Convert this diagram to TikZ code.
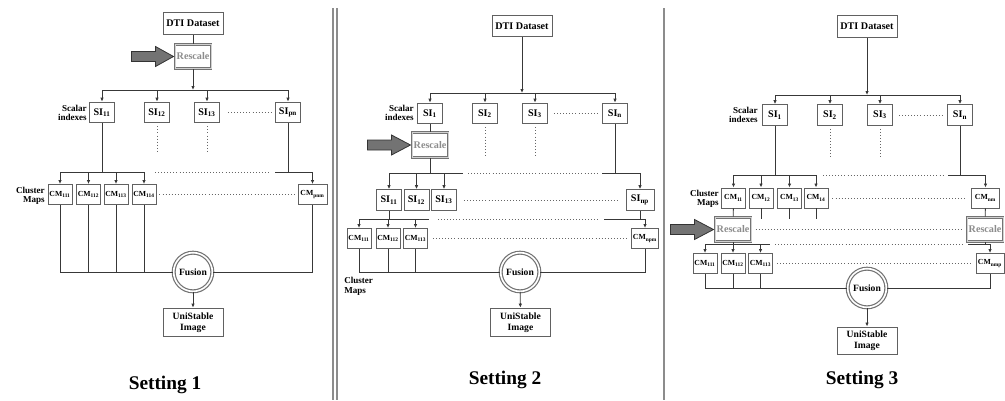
\documentclass[tikz,border=0pt]{standalone}
\usepackage{fontspec}
\setmainfont{Liberation Serif}
\usetikzlibrary{calc,arrows.meta}
\tikzset{
  ln/.style={draw=black!78, line width=0.65pt},
  arr/.style={ln, -{Latex[length=3pt,width=2.6pt]}},
  dots/.style={draw=black!60, line width=0.6pt, dash pattern=on 0.6pt off 1.7pt},
  box/.style={draw=black!62, line width=0.7pt, fill=white, inner sep=0pt, align=center,
    font=\bfseries\fontsize{7.6}{8.5}\selectfont},
  dtibox/.style={box, minimum width=45pt, minimum height=16pt},
  sibox/.style={box, minimum width=18.75pt, minimum height=15.5pt},
  cmbox/.style={box, font=\bfseries\fontsize{5.8}{6}\selectfont, minimum width=18pt, minimum height=15pt},
  rsbox/.style={draw=black!55, double=black!18, double distance=0.7pt, line width=0.75pt, fill=white,
    inner sep=0pt, minimum width=27pt, minimum height=18.5pt, text=black!45,
    font=\bfseries\fontsize{7.6}{8}\selectfont},
  unibox/.style={box, font=\bfseries\fontsize{7.2}{8.5}\selectfont, minimum width=45pt, minimum height=21.5pt},
  fusionnode/.style={circle, draw=black!55, double=white, double distance=1.2pt, line width=0.9pt,
    minimum size=29pt, inner sep=0pt, font=\bfseries\fontsize{7.2}{8}\selectfont},
  lbl/.style={inner sep=0pt, align=right, font=\bfseries\fontsize{6.8}{7.2}\selectfont},
  settinglbl/.style={inner sep=0pt, font=\bfseries\fontsize{14.5}{16}\selectfont},
  garrow/.style={fill=black!55, draw=black!80, line width=0.6pt, line join=miter},
  sep/.style={draw=black!45, line width=0.8pt}
}
\begin{document}
\begin{tikzpicture}[x=0.75pt,y=-0.75pt]
\useasboundingbox (0,0) rectangle (1005,400);
% separators
\draw[sep] (333,8) -- (333,400);
\draw[sep] (337,8) -- (337,400);
\draw[sep, line width=1.2pt] (664,8) -- (664,400);

%================ Setting 1 ================
\node[dtibox] (dti1) at (193,23.5) {DTI Dataset};
\node[rsbox] (rs1) at (193,56.5) {Rescale};
\draw[garrow, shift={(rs1.west)}] (-43,-5) -- (-19,-5) -- (-19,-10) -- (-1,0) -- (-19,10) -- (-19,5) -- (-43,5) -- cycle;
\coordinate (b1a) at (0,90);
\coordinate (b1b) at (0,172);
\node[sibox] (s11) at (102,112.5) {SI\textsubscript{11}};
\node[sibox] (s12) at (157,112.5) {SI\textsubscript{12}};
\node[sibox] (s13) at (207,112.5) {SI\textsubscript{13}};
\node[sibox] (spn) at (288,112.5) {SI\textsubscript{pn}};
\node[lbl, anchor=east] (scal1) at (87,113) {Scalar\\indexes};
\draw[ln] (dti1) -- (rs1);
\draw[arr] (rs1) -- (rs1 |- b1a);
\draw[ln] (s11 |- b1a) -- (spn |- b1a);
\foreach \n in {s11,s12,s13,spn} \draw[arr] (\n |- b1a) -- (\n);
\draw[dots] ($(s13.east)+(8,0)$) -- ($(spn.west)+(-3,0)$);
\draw[dots] ($(s12.south)+(0,3)$) -- ($(s12.south)+(0,30)$);
\draw[dots] ($(s13.south)+(0,3)$) -- ($(s13.south)+(0,30)$);
\node[cmbox] (c111) at (60,194.5) {CM\textsubscript{111}};
\node[cmbox] (c112) at (88.5,194.5) {CM\textsubscript{112}};
\node[cmbox] (c113) at (116,194.5) {CM\textsubscript{113}};
\node[cmbox] (c114) at (144,194.5) {CM\textsubscript{114}};
\node[cmbox, minimum width=21.75pt] (cpnm) at (312.5,194.5) {CM\textsubscript{pnm}};
\node[lbl, anchor=east] (clu1) at (45,196) {Cluster\\Maps};
\draw[ln] (s11) -- (s11 |- b1b);
\draw[ln] (spn) -- (spn |- b1b);
\draw[ln] (c111 |- b1b) -- (c114 |- b1b);
\draw[dots] (155,172) -- (270,172);
\draw[ln] (275,172) -- (cpnm |- b1b);
\foreach \n in {c111,c112,c113,c114,cpnm} \draw[arr] (\n |- b1b) -- (\n);
\draw[dots] ($(c114.east)+(3,0)$) -- ($(cpnm.west)+(-3,0)$);
\node[fusionnode] (fu1) at (193,272) {Fusion};
\node[unibox] (un1) at (193,322.5) {UniStable\\Image};
\draw[ln] (c111) -- (c111 |- fu1) -- (fu1);
\foreach \n in {c112,c113,c114} \draw[ln] (\n) -- (\n |- fu1);
\draw[ln] (cpnm) -- (cpnm |- fu1) -- (fu1);
\draw[arr] (fu1) -- (un1);
\node[settinglbl] (st1) at (165,385) {Setting 1};

%================ Setting 2 ================
\node[dtibox] (dti2) at (522,26) {DTI Dataset};
\coordinate (b2a) at (0,93);
\coordinate (b2b) at (0,173);
\coordinate (b2c) at (0,219);
\node[sibox] (t1) at (430,113.5) {SI\textsubscript{1}};
\node[sibox] (t2) at (485,113.5) {SI\textsubscript{2}};
\node[sibox] (t3) at (535,113.5) {SI\textsubscript{3}};
\node[sibox] (tn) at (615,113.5) {SI\textsubscript{n}};
\node[lbl, anchor=east] (scal2) at (414,113) {Scalar\\indexes};
\draw[arr] (dti2) -- (dti2 |- b2a);
\draw[ln] (t1 |- b2a) -- (tn |- b2a);
\foreach \n in {t1,t2,t3,tn} \draw[arr] (\n |- b2a) -- (\n);
\draw[dots] ($(t3.east)+(6,0)$) -- ($(tn.west)+(-5,0)$);
\draw[dots] ($(t2.south)+(0,3)$) -- ($(t2.south)+(0,31)$);
\draw[dots] ($(t3.south)+(0,3)$) -- ($(t3.south)+(0,31)$);
\node[rsbox] (rs2) at (430,145) {Rescale};
\draw[garrow, shift={(rs2.west)}] (-44,-5) -- (-20,-5) -- (-20,-10) -- (-1,0) -- (-20,10) -- (-20,5) -- (-44,5) -- cycle;
\draw[ln] (t1) -- (rs2);
\node[sibox] (u11) at (389,200) {SI\textsubscript{11}};
\node[sibox] (u12) at (416.5,200) {SI\textsubscript{12}};
\node[sibox] (u13) at (444,200) {SI\textsubscript{13}};
\node[sibox, minimum width=21pt] (unp) at (640,200) {SI\textsubscript{np}};
\draw[ln] (rs2) -- (rs2 |- b2b);
\draw[ln] (tn) -- (tn |- b2b);
\draw[ln] (u11 |- b2b) -- (463,173);
\draw[dots] (468,173) -- (598,173);
\draw[ln] (602,173) -- (unp |- b2b);
\foreach \n in {u11,u12,u13,unp} \draw[arr] (\n |- b2b) -- (\n);
\draw[dots] ($(u13.east)+(7,0)$) -- ($(unp.west)+(-6,0)$);
\node[cmbox] (d111) at (359,238.5) {CM\textsubscript{111}};
\node[cmbox] (d112) at (388,238.5) {CM\textsubscript{112}};
\node[cmbox] (d113) at (415.5,238.5) {CM\textsubscript{113}};
\node[cmbox, minimum width=20.25pt] (dnpm) at (645,238.5) {CM\textsubscript{npm}};
\draw[ln] (u11) -- (u11 |- b2c);
\draw[ln] (unp) -- (unp |- b2c);
\draw[ln] (d111 |- b2c) -- (429,219);
\draw[dots] (438,219) -- (600,219);
\draw[ln] (604,219) -- (dnpm |- b2c);
\foreach \n in {d111,d112,d113,dnpm} \draw[arr] (\n |- b2c) -- (\n);
\draw[dots] ($(d113.east)+(5,0)$) -- ($(dnpm.west)+(-3,0)$);
\node[fusionnode] (fu2) at (520,272) {Fusion};
\node[unibox] (un2) at (520.5,322.5) {UniStable\\Image};
\draw[ln] (d111) -- (d111 |- fu2) -- (fu2);
\foreach \n in {d112,d113} \draw[ln] (\n) -- (\n |- fu2);
\draw[ln] (dnpm) -- (dnpm |- fu2) -- (fu2);
\draw[arr] (fu2) -- (un2);
\node[lbl, anchor=north west, align=left] (clu2) at (344,277) {Cluster\\Maps};
\node[settinglbl] (st2) at (505,380) {Setting 2};

%================ Setting 3 ================
\node[dtibox] (dti3) at (867,26.5) {DTI Dataset};
\coordinate (b3a) at (0,95);
\coordinate (b3b) at (0,175);
\coordinate (b3c) at (0,244);
\node[sibox] (v1) at (775,115) {SI\textsubscript{1}};
\node[sibox] (v2) at (830,115) {SI\textsubscript{2}};
\node[sibox] (v3) at (880,115) {SI\textsubscript{3}};
\node[sibox] (vn) at (960,115) {SI\textsubscript{n}};
\node[lbl, anchor=east] (scal3) at (758,115) {Scalar\\indexes};
\draw[arr] (dti3) -- (dti3 |- b3a);
\draw[ln] (v1 |- b3a) -- (vn |- b3a);
\foreach \n in {v1,v2,v3,vn} \draw[arr] (\n |- b3a) -- (\n);
\draw[dots] ($(v3.east)+(6,0)$) -- ($(vn.west)+(-5,0)$);
\draw[dots] ($(v2.south)+(0,3)$) -- ($(v2.south)+(0,31)$);
\draw[dots] ($(v3.south)+(0,3)$) -- ($(v3.south)+(0,31)$);
\node[cmbox] (e11) at (733.5,198) {CM\textsubscript{11}};
\node[cmbox] (e12) at (761,198) {CM\textsubscript{12}};
\node[cmbox] (e13) at (789.5,198) {CM\textsubscript{13}};
\node[cmbox] (e14) at (816,198) {CM\textsubscript{14}};
\node[cmbox, minimum width=21pt] (enm) at (985.5,198) {CM\textsubscript{nm}};
\node[lbl, anchor=east] (clu3) at (719,199) {Cluster\\Maps};
\draw[ln] (v1) -- (v1 |- b3b);
\draw[ln] (vn) -- (vn |- b3b);
\draw[ln] (e11 |- b3b) -- (e14 |- b3b);
\draw[dots] (823,175) -- (945,175);
\draw[ln] (948,175) -- (enm |- b3b);
\foreach \n in {e11,e12,e13,e14,enm} \draw[arr] (\n |- b3b) -- (\n);
\draw[dots] ($(e14.east)+(4,0)$) -- ($(enm.west)+(-4,0)$);
\foreach \n in {e12,e13,e14} \draw[ln] (\n.south) -- ++(0,11);
\node[rsbox] (rs3a) at (733,229.5) {Rescale};
\node[rsbox] (rs3b) at (985,229.5) {Rescale};
\draw[garrow, shift={(rs3a.west)}] (-44,-5) -- (-20,-5) -- (-20,-10) -- (-1,0) -- (-20,10) -- (-20,5) -- (-44,5) -- cycle;
\draw[ln] (e11) -- (rs3a);
\draw[ln] (enm) -- (rs3b);
\draw[dots] ($(rs3a.east)+(4,0)$) -- ($(rs3b.west)+(-4,0)$);
\node[cmbox] (f111) at (705,263.5) {CM\textsubscript{111}};
\node[cmbox] (f112) at (733,263.5) {CM\textsubscript{112}};
\node[cmbox] (f113) at (760.5,263.5) {CM\textsubscript{113}};
\node[cmbox, minimum width=21pt] (fnmp) at (990,263.5) {CM\textsubscript{nmp}};
\draw[ln] (rs3a) -- (rs3a |- b3c);
\draw[ln] (rs3b) -- (rs3b |- b3c);
\draw[ln] (f111 |- b3c) -- (770,244);
\draw[dots] (775,244) -- (963,244);
\draw[ln] (968,244) -- (fnmp |- b3c);
\foreach \n in {f111,f112,f113,fnmp} \draw[arr] (\n |- b3c) -- (\n);
\draw[dots] ($(f113.east)+(4,0)$) -- ($(fnmp.west)+(-4,0)$);
\node[fusionnode] (fu3) at (867,288) {Fusion};
\node[unibox, minimum height=20.25pt] (un3) at (867,340.5) {UniStable\\Image};
\draw[ln] (f111) -- (f111 |- fu3) -- (fu3);
\foreach \n in {f112,f113} \draw[ln] (\n) -- (\n |- fu3);
\draw[ln] (fnmp) -- (fnmp |- fu3) -- (fu3);
\draw[arr] (fu3) -- (un3);
\node[settinglbl] (st3) at (862,380) {Setting 3};
\end{tikzpicture}
\end{document}
